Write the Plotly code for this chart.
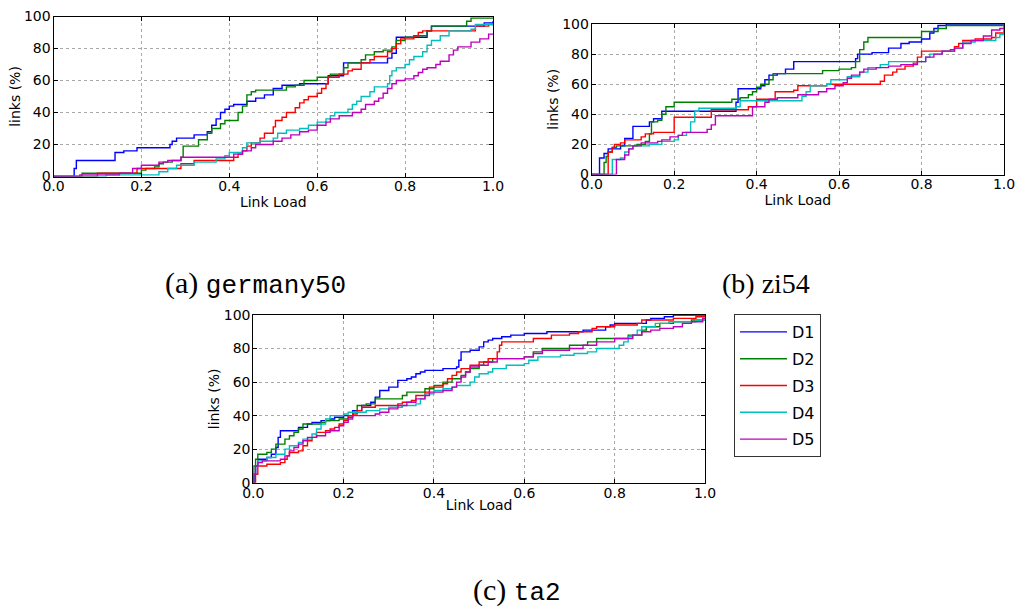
import plotly.graph_objects as go

# ---------------- data ----------------
names = ["D1", "D2", "D3", "D4", "D5"]
colors = ["#0000ff", "#008000", "#ff0000", "#00bfbf", "#bf00bf"]

x_ticks = [0.0, 0.2, 0.4, 0.6, 0.8, 1.0]
y_ticks = [0, 20, 40, 60, 80, 100]

# (a) germany50
ger_d1_load = [0, 0.047, 0.052, 0.14, 0.16, 0.19, 0.265, 0.27, 0.28, 0.32, 0.35, 0.36, 0.37, 0.38, 0.39, 0.40, 0.41, 0.44, 0.46, 0.48, 0.50, 0.52, 0.56, 0.625, 0.66, 0.76, 0.77, 0.78, 0.85, 0.86, 0.98, 1.0]
ger_d1_pct = [0, 5, 10, 15, 16, 18, 20, 22, 24, 26, 28, 32, 36, 40, 42, 44, 45, 47, 49, 51, 55, 57, 58, 63, 71, 74, 77, 87, 91, 94, 96, 97]
ger_d2_load = [0, 0.065, 0.2, 0.21, 0.23, 0.24, 0.25, 0.27, 0.29, 0.295, 0.33, 0.35, 0.36, 0.38, 0.39, 0.42, 0.43, 0.44, 0.45, 0.46, 0.53, 0.55, 0.57, 0.6, 0.63, 0.66, 0.67, 0.70, 0.71, 0.73, 0.75, 0.77, 0.78, 0.80, 0.82, 0.85, 0.86, 0.94, 0.95]
ger_d2_pct = [0, 2, 4, 5, 6, 8, 9, 10, 12, 19, 23, 27, 30, 33, 35, 40, 44, 51, 53, 54, 56, 57, 60, 62, 64, 68, 71, 73, 76, 78, 79, 81, 85, 87, 88, 91, 94, 97, 99]
ger_d3_load = [0, 0.10, 0.19, 0.29, 0.32, 0.41, 0.42, 0.43, 0.44, 0.45, 0.47, 0.48, 0.50, 0.505, 0.52, 0.53, 0.55, 0.56, 0.57, 0.58, 0.60, 0.61, 0.62, 0.625, 0.65, 0.67, 0.68, 0.70, 0.72, 0.73, 0.76, 0.77, 0.78, 0.79, 0.82, 0.83, 0.84, 0.96, 0.99, 1.0]
ger_d3_pct = [0, 2, 5, 8, 10, 12, 14, 16, 19, 21, 24, 27, 31, 35, 37, 40, 43, 46, 48, 50, 52, 55, 58, 62, 64, 66, 67, 71, 73, 75, 78, 80, 83, 86, 88, 90, 91, 94, 95, 96]
ger_d4_load = [0, 0.12, 0.24, 0.26, 0.28, 0.32, 0.37, 0.39, 0.40, 0.43, 0.44, 0.47, 0.50, 0.51, 0.53, 0.56, 0.58, 0.60, 0.62, 0.63, 0.64, 0.67, 0.68, 0.69, 0.70, 0.72, 0.73, 0.76, 0.765, 0.77, 0.78, 0.80, 0.81, 0.82, 0.84, 0.85, 0.86, 0.88, 0.90, 0.95, 0.96, 1.0]
ger_d4_pct = [0, 1, 3, 5, 7, 9, 11, 13, 15, 18, 21, 22, 24, 27, 29, 30, 32, 34, 36, 38, 40, 42, 45, 47, 50, 53, 56, 58, 63, 66, 68, 70, 73, 75, 78, 82, 85, 88, 91, 92, 95, 96]
ger_d5_load = [0, 0.06, 0.15, 0.18, 0.20, 0.24, 0.26, 0.29, 0.41, 0.43, 0.45, 0.46, 0.50, 0.52, 0.54, 0.56, 0.58, 0.60, 0.62, 0.63, 0.65, 0.68, 0.70, 0.71, 0.73, 0.74, 0.75, 0.76, 0.77, 0.78, 0.80, 0.82, 0.83, 0.84, 0.85, 0.87, 0.88, 0.90, 0.91, 0.92, 0.95, 0.97, 0.99]
ger_d5_pct = [0, 1, 2, 5, 7, 9, 10, 12, 14, 16, 18, 20, 22, 24, 26, 28, 29, 32, 34, 36, 38, 40, 42, 45, 47, 49, 52, 55, 58, 60, 61, 63, 65, 67, 68, 70, 72, 76, 79, 81, 84, 86, 89]

# (b) zi54
zi_d1_load = [0, 0.019, 0.03, 0.04, 0.07, 0.08, 0.10, 0.14, 0.15, 0.17, 0.35, 0.355, 0.41, 0.42, 0.43, 0.45, 0.47, 0.49, 0.64, 0.645, 0.68, 0.72, 0.75, 0.77, 0.80, 0.82, 0.83, 0.84, 0.86]
zi_d1_pct = [0, 11, 14, 17, 19, 24, 32, 35, 37, 42, 48, 57, 59, 63, 66, 67, 70, 75, 77, 80, 81, 84, 87, 88, 90, 94, 97, 99, 100]
zi_d2_load = [0, 0.03, 0.035, 0.04, 0.05, 0.06, 0.11, 0.13, 0.14, 0.145, 0.16, 0.17, 0.18, 0.20, 0.34, 0.36, 0.38, 0.39, 0.40, 0.41, 0.43, 0.44, 0.56, 0.60, 0.63, 0.64, 0.65, 0.66, 0.67, 0.80, 0.84, 0.86]
zi_d2_pct = [0, 8, 12, 15, 18, 19, 20, 22, 27, 35, 36, 40, 45, 48, 50, 51, 53, 55, 58, 60, 63, 67, 69, 70, 71, 75, 83, 88, 91, 95, 97, 99]
zi_d3_load = [0, 0.04, 0.05, 0.055, 0.07, 0.08, 0.12, 0.13, 0.15, 0.20, 0.29, 0.38, 0.40, 0.445, 0.49, 0.50, 0.57, 0.70, 0.71, 0.73, 0.74, 0.76, 0.78, 0.79, 0.80, 0.87, 0.88, 0.89, 0.90, 0.93, 0.97, 0.98, 1.0]
zi_d3_pct = [0, 15, 18, 20, 21, 23, 25, 27, 28, 38, 43, 45, 50, 55, 56, 59, 60, 62, 66, 68, 70, 72, 74, 78, 82, 83, 85, 87, 89, 90, 91, 94, 97]
zi_d4_load = [0, 0.05, 0.07, 0.08, 0.09, 0.10, 0.14, 0.17, 0.20, 0.21, 0.23, 0.24, 0.25, 0.26, 0.35, 0.36, 0.51, 0.52, 0.53, 0.57, 0.58, 0.62, 0.65, 0.67, 0.70, 0.72, 0.81, 0.82, 0.85, 0.88, 0.90, 0.93, 0.98, 0.99, 1.0]
zi_d4_pct = [0, 10, 11, 15, 17, 19, 20, 22, 23, 26, 28, 35, 42, 44, 45, 49, 52, 55, 59, 60, 63, 65, 68, 71, 73, 75, 78, 80, 82, 84, 88, 89, 91, 93, 95]
zi_d5_load = [0, 0.06, 0.08, 0.09, 0.10, 0.12, 0.16, 0.17, 0.19, 0.21, 0.22, 0.28, 0.29, 0.30, 0.39, 0.42, 0.43, 0.45, 0.50, 0.55, 0.57, 0.59, 0.61, 0.62, 0.63, 0.65, 0.66, 0.69, 0.72, 0.75, 0.79, 0.81, 0.83, 0.85, 0.88, 0.90, 0.92, 0.95, 0.97, 0.99, 1.0]
zi_d5_pct = [0, 10, 13, 17, 19, 21, 22, 23, 25, 26, 28, 30, 33, 39, 45, 48, 50, 51, 53, 55, 57, 59, 61, 64, 66, 68, 70, 71, 72, 73, 75, 78, 80, 82, 84, 87, 89, 92, 96, 97, 99]

# (c) ta2
ta_d1_load = [0, 0.002, 0.005, 0.01, 0.03, 0.04, 0.05, 0.055, 0.06, 0.10, 0.12, 0.13, 0.15, 0.17, 0.18, 0.20, 0.22, 0.24, 0.26, 0.27, 0.28, 0.30, 0.32, 0.34, 0.35, 0.36, 0.37, 0.38, 0.42, 0.45, 0.455, 0.46, 0.48, 0.50, 0.51, 0.52, 0.53, 0.55, 0.57, 0.60, 0.65, 0.73, 0.78, 0.79, 0.80, 0.87, 0.88, 0.91, 0.93]
ta_d1_pct = [0, 5, 10, 14, 15, 17, 21, 27, 31, 33, 35, 36, 37, 38, 39, 40, 43, 46, 48, 51, 55, 57, 61, 62, 63, 65, 66, 67, 68, 69, 73, 78, 79, 81, 84, 85, 86, 87, 88, 89, 90, 91, 93, 94, 95, 97, 98, 99, 100]
ta_d2_load = [0, 0.001, 0.005, 0.01, 0.03, 0.04, 0.05, 0.07, 0.08, 0.09, 0.10, 0.11, 0.15, 0.16, 0.19, 0.21, 0.22, 0.23, 0.25, 0.27, 0.33, 0.34, 0.38, 0.40, 0.42, 0.44, 0.46, 0.47, 0.48, 0.50, 0.51, 0.53, 0.60, 0.62, 0.64, 0.70, 0.74, 0.76, 0.83, 0.86, 0.87, 0.90, 0.93, 0.97]
ta_d2_pct = [0, 10, 14, 17, 18, 20, 23, 26, 28, 30, 32, 35, 36, 37, 38, 39, 42, 46, 47, 50, 52, 54, 56, 58, 60, 62, 64, 66, 68, 70, 72, 74, 75, 78, 80, 82, 84, 86, 88, 91, 93, 95, 96, 97]
ta_d3_load = [0, 0.005, 0.01, 0.03, 0.06, 0.07, 0.075, 0.08, 0.10, 0.11, 0.12, 0.13, 0.14, 0.16, 0.17, 0.18, 0.19, 0.20, 0.21, 0.22, 0.23, 0.24, 0.27, 0.32, 0.33, 0.35, 0.36, 0.38, 0.39, 0.42, 0.43, 0.44, 0.45, 0.46, 0.48, 0.50, 0.52, 0.54, 0.545, 0.55, 0.62, 0.66, 0.70, 0.72, 0.75, 0.76, 0.80, 0.85, 0.86, 0.93, 0.98]
ta_d3_pct = [0, 5, 10, 11, 12, 14, 16, 18, 19, 22, 25, 27, 30, 31, 32, 33, 35, 37, 40, 41, 43, 45, 46, 47, 48, 49, 52, 54, 57, 59, 62, 64, 66, 68, 70, 72, 74, 78, 82, 84, 86, 88, 89, 90, 92, 93, 94, 95, 97, 98, 99]
ta_d4_load = [0, 0.001, 0.005, 0.01, 0.03, 0.05, 0.07, 0.08, 0.10, 0.11, 0.13, 0.14, 0.15, 0.16, 0.17, 0.20, 0.21, 0.25, 0.28, 0.30, 0.33, 0.36, 0.37, 0.38, 0.40, 0.42, 0.44, 0.45, 0.48, 0.49, 0.50, 0.52, 0.53, 0.56, 0.60, 0.61, 0.63, 0.68, 0.71, 0.74, 0.76, 0.81, 0.82, 0.83, 0.84, 0.85, 0.86, 0.89, 0.92, 0.98]
ta_d4_pct = [0, 5, 10, 13, 15, 17, 20, 22, 24, 26, 29, 32, 35, 38, 40, 41, 42, 43, 44, 45, 46, 47, 50, 53, 55, 56, 57, 58, 60, 63, 65, 66, 68, 70, 71, 73, 75, 76, 77, 78, 80, 82, 84, 87, 88, 91, 93, 95, 96, 97]
ta_d5_load = [0, 0.001, 0.005, 0.01, 0.02, 0.06, 0.07, 0.08, 0.09, 0.10, 0.11, 0.12, 0.14, 0.16, 0.17, 0.19, 0.20, 0.21, 0.22, 0.27, 0.28, 0.30, 0.32, 0.34, 0.36, 0.38, 0.39, 0.42, 0.44, 0.45, 0.46, 0.47, 0.48, 0.50, 0.52, 0.54, 0.60, 0.62, 0.64, 0.70, 0.73, 0.76, 0.80, 0.84, 0.86, 0.88, 0.90, 0.93, 0.95, 0.97, 0.995]
ta_d5_pct = [0, 5, 10, 12, 13, 14, 16, 19, 21, 23, 25, 27, 28, 30, 31, 34, 36, 38, 40, 41, 42, 44, 46, 48, 50, 52, 54, 55, 57, 60, 63, 66, 69, 70, 72, 74, 75, 77, 79, 80, 82, 84, 86, 88, 90, 91, 92, 93, 95, 96, 98]

captions = ["(a) ", "germany50", "(b) zi54", "(c) ", "ta2"]
x_title = "Link Load"
y_title = "links (%)"

panels = [
    ([ger_d1_load, ger_d2_load, ger_d3_load, ger_d4_load, ger_d5_load],
     [ger_d1_pct, ger_d2_pct, ger_d3_pct, ger_d4_pct, ger_d5_pct]),
    ([zi_d1_load, zi_d2_load, zi_d3_load, zi_d4_load, zi_d5_load],
     [zi_d1_pct, zi_d2_pct, zi_d3_pct, zi_d4_pct, zi_d5_pct]),
    ([ta_d1_load, ta_d2_load, ta_d3_load, ta_d4_load, ta_d5_load],
     [ta_d1_pct, ta_d2_pct, ta_d3_pct, ta_d4_pct, ta_d5_pct]),
]

# ---------------- layout geometry (pixels) ----------------
W, H = 1018, 610
boxes = [(53.5, 493, 16.5, 176.5), (591.7, 1004, 24, 174.5), (253.3, 705, 315, 482.7)]

fig = go.Figure()
for p, (xs_list, ys_list) in enumerate(panels):
    ax = "" if p == 0 else str(p + 1)
    for i in range(5):
        xs = list(xs_list[i])
        ys = list(ys_list[i])
        if xs[-1] < 1.0:
            xs.append(1.0)
            ys.append(ys[-1])
        fig.add_trace(go.Scatter(
            x=xs, y=ys, mode="lines", line=dict(color=colors[i], width=1.4, shape="hv"),
            name=names[i], legendgroup=names[i], showlegend=(p == 2),
            xaxis="x" + ax, yaxis="y" + ax, hoverinfo="skip"))

tick_font = dict(family="DejaVu Sans", size=14, color="black")
title_font = dict(family="DejaVu Sans", size=14, color="black")
axis_common = dict(showline=True, mirror="ticks", linecolor="black", linewidth=1,
                   ticks="inside", ticklen=4, tickcolor="black", tickwidth=1,
                   showgrid=True, gridcolor="#a8a8a8", griddash="dot", gridwidth=1,
                   zeroline=False, tickfont=tick_font, automargin=False)
for p, (x0, x1, yt, yb) in enumerate(boxes):
    sfx = "" if p == 0 else str(p + 1)
    fig.update_layout(**{
        "xaxis" + sfx: dict(axis_common, domain=[x0 / W, x1 / W], range=[0, 1],
                            tickvals=x_ticks, tickformat=".1f",
                            anchor="y" + sfx, ticklabelstandoff=-3,
                            title=dict(text=x_title, font=title_font, standoff=0)),
        "yaxis" + sfx: dict(axis_common, domain=[1 - yb / H, 1 - yt / H], range=[0, 100],
                            tickvals=y_ticks, anchor="x" + sfx, ticklabelstandoff=-1,
                            title=dict(text=y_title, font=title_font, standoff=0)),
    })

serif = "Liberation Serif"
mono = "Liberation Mono"
fig.add_annotation(x=256 / W, y=1 - 283 / H, xref="paper", yref="paper", showarrow=False,
                   xanchor="center", yanchor="middle",
                   text=f"<span style='font-family:{serif};font-size:30px'>{captions[0]}</span>"
                        f"<span style='font-family:{mono}'>{captions[1]}</span>",
                   font=dict(size=26, color="black", family=serif))
fig.add_annotation(x=766 / W, y=1 - 283 / H, xref="paper", yref="paper", showarrow=False,
                   xanchor="center", yanchor="middle",
                   text=captions[2], font=dict(size=28, color="black", family=serif))
fig.add_annotation(x=517 / W, y=1 - 590 / H, xref="paper", yref="paper", showarrow=False,
                   xanchor="center", yanchor="middle",
                   text=f"<span style='font-family:{serif};font-size:30px'>{captions[3]}</span>"
                        f"<span style='font-family:{mono}'>{captions[4]}</span>",
                   font=dict(size=26, color="black", family=serif))

fig.update_layout(
    width=W, height=H, margin=dict(l=0, r=0, t=0, b=0),
    paper_bgcolor="white", plot_bgcolor="white",
    legend=dict(x=734 / W, y=1 - 314 / H, xanchor="left", yanchor="top",
                bordercolor="#333333", borderwidth=1, bgcolor="white",
                font=dict(family="DejaVu Sans", size=16, color="black"),
                tracegroupgap=3, traceorder="grouped", itemwidth=47),
)

fig.write_html("out.html")
